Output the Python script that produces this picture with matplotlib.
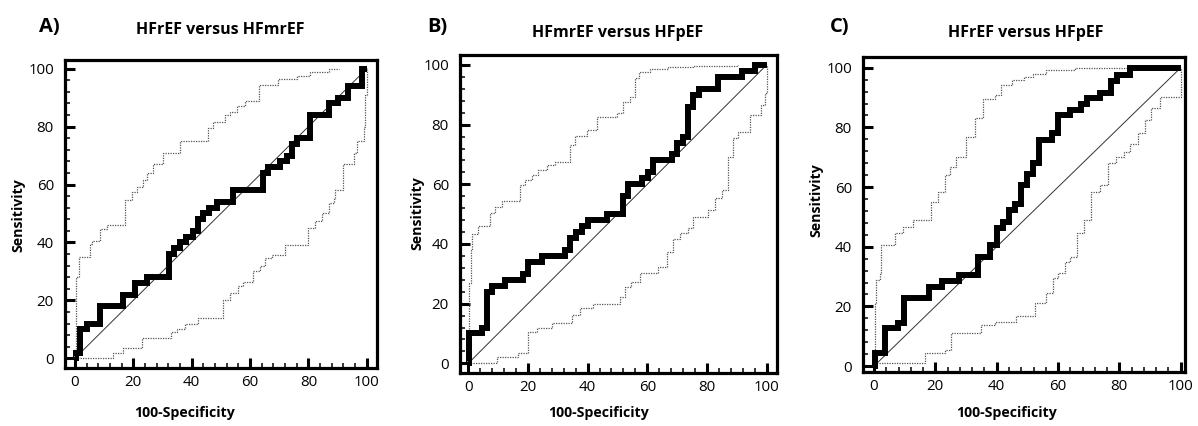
import numpy as np
import matplotlib
matplotlib.use("Agg")
import matplotlib.pyplot as plt
from matplotlib.ticker import MultipleLocator

plt.rcParams['font.family'] = ['Open Sans', 'DejaVu Sans']

# ---- data ----
# panel A: HFrEF versus HFmrEF
a_roc_x = [0, 0.3, 1.7, 4.2, 8.6, 16.6, 20.6, 24.6, 32.2, 34, 36, 38, 40.6, 42.3, 44, 46, 48.6,
           54.3, 64.6, 66.3, 70.3, 72.6, 74.3, 76, 80.6, 86.9, 90.3, 93.7, 98.3, 100]
a_roc_y = [0, 2, 10, 12, 18, 22, 26, 28, 36, 38, 40, 42, 44, 48, 50, 52, 54,
           58, 64, 66, 68, 70, 74, 76, 84, 88, 90, 94, 100, 100]
a_up_x = [0, 0.3, 1.5, 5.1, 5.7, 8.6, 10.9, 17.1, 19.4, 21.1, 23.4, 24.6, 26.9, 30.3, 36,
          45.7, 47.4, 51.4, 53.1, 55.7, 58.3, 62.9, 69.7, 76, 80.6, 86.9, 90.6]
a_up_y = [0, 28, 35, 39.5, 40.5, 44.5, 46, 54.5, 57.5, 59, 61.5, 64, 67, 71, 75,
          79.5, 81.5, 84, 85, 87, 89, 94.4, 96.5, 97.5, 99, 100, 100]
a_lo_x = [0, 13, 16.6, 22.9, 33, 34.9, 37.7, 42.3, 50.6, 53.1, 56, 57.7, 61, 63.4, 65.1, 67.4,
          72, 80, 82.3, 84.6, 86.9, 88.6, 89.1, 92, 95.7, 96.8, 98.9, 99.4, 100]
a_lo_y = [0, 2, 3.5, 7, 9, 10, 12, 14, 20, 22.5, 25, 26.5, 30, 32, 34.5, 35.7,
          39, 45, 47.5, 50, 53.5, 55, 58, 67, 71, 75, 80, 91, 100]

# panel B: HFmrEF versus HFpEF
b_roc_x = [0, 0.3, 4.5, 6.1, 7.8, 12.3, 18.2, 20.1, 24.6, 32.4, 34, 36, 38.2, 40.2, 46.4, 52,
           53.6, 58.1, 60.3, 62, 68.2, 69.8, 72, 73.7, 75.4, 77.4, 83.8, 91.6, 96, 100]
b_roc_y = [0, 10, 12, 24, 26, 28, 30, 34, 36, 38, 42, 44, 46, 48, 50, 56,
           60, 62, 64, 68, 70, 74, 76, 86, 90, 92, 96, 98, 100, 100]
b_up_x = [0, 0.3, 0.8, 1.1, 3.4, 7.3, 8.9, 11.2, 17.3, 19, 21.2, 23.5, 26.3, 29, 34, 35.8,
          39.7, 43, 49.7, 52, 54.2, 55.9, 57.3, 60.9, 67, 75.4, 90.5]
b_up_y = [0, 27, 38, 43.5, 46, 50.3, 52.3, 54.5, 59.8, 61.5, 63, 64.8, 66.5, 67.4, 73.2, 76.3,
          78.2, 82.7, 83.8, 87.7, 89.2, 95.5, 97.8, 98.5, 99.4, 99.8, 100]
b_lo_x = [0, 9.5, 16.8, 20.1, 22.9, 27.9, 34.6, 37.4, 41.9, 50.8, 52.5, 54.7, 57.5, 63.7,
          66.5, 68.7, 70.9, 73.7, 75.4, 80.4, 82.7, 84.9, 87.2, 88.8, 90.5, 94.4, 98.3,
          99.4, 100]
b_lo_y = [0, 2, 3.5, 10.6, 11.7, 13.6, 16.2, 18.4, 20, 22.3, 25.7, 27.4, 30.2, 32.4,
          37.4, 41.6, 43.6, 45.3, 49.2, 51.4, 55.3, 58.1, 69.3, 75.4, 77.7, 83.2, 86.6,
          90.5, 100]

# panel C: HFrEF versus HFpEF
c_roc_x = [0, 0.3, 3.7, 7.8, 9.8, 17.9, 22, 27.7, 33.9, 37.9, 40, 42, 43.9, 46.1, 47.8, 49.9,
           51.8, 53.7, 58, 60, 63.8, 67.6, 69.6, 73.6, 77.4, 79.3, 83.4, 100]
c_roc_y = [0, 4.5, 12.6, 14.5, 22.7, 26.6, 28.5, 30.5, 36.6, 40.6, 46.4, 48.4, 52.3, 54.3,
           60.7, 64.4, 68.2, 75.8, 78, 84.1, 85.8, 87.7, 89.7, 91.6, 95.5, 97.5, 100, 100]
c_up_x = [0, 0.2, 0.7, 1.8, 2.4, 6.7, 9.5, 12.7, 18.5, 20.9, 23, 24.7, 26.8, 30.1, 32.8, 35.5,
          39.3, 41.5, 45, 48.9, 51.8, 56.2, 65.4, 82.8]
c_up_y = [0, 21, 28.8, 31, 40.6, 44.5, 46.7, 49, 55, 58.4, 64, 66.6, 70.2, 76.9, 83, 89.4,
          90.8, 94.2, 95.9, 97, 97.9, 99.2, 100, 100]
c_lo_x = [0, 16.5, 23, 25.2, 34.8, 39.3, 46.2, 52.4, 56.2, 58.4, 60, 62.2, 63.8, 66.3, 68.5,
          70.9, 73.6, 76.3, 79, 81.5, 83.4, 86, 88.3, 90.4, 93.2, 100]
c_lo_y = [1, 4.5, 5.4, 11.2, 13.7, 14.9, 16.8, 21, 24.4, 29.4, 31.1, 35, 36.6, 44.5, 49,
          58.4, 60.7, 67.9, 70.2, 71.8, 74.6, 78, 82.5, 86.4, 90.3, 100]

panels = [
    ("A)", "HFrEF versus HFmrEF", a_roc_x, a_roc_y, a_up_x, a_up_y, a_lo_x, a_lo_y),
    ("B)", "HFmrEF versus HFpEF", b_roc_x, b_roc_y, b_up_x, b_up_y, b_lo_x, b_lo_y),
    ("C)", "HFrEF versus HFpEF", c_roc_x, c_roc_y, c_up_x, c_up_y, c_lo_x, c_lo_y),
]

# layout in pixels (figure 1198 x 426)
W, H = 1198, 426
boxes = [(65, 60, 377, 368), (460, 55, 777, 373), (863, 57, 1185, 372)]
xlims = [(-3.4, 103.5), (-2.8, 103.5), (-3.6, 101.4)]
ylims = [(-3.35, 103), (-3.25, 103.35), (-2.0, 103.6)]
letter_pos = [(39, 27), (427, 27), (830, 27)]
title_pos = [(220, 30), (618, 33), (1026, 33)]
xlab_pos = [(185, 413), (599, 413), (1007, 413)]
ylab_pos = [(18, 215), (417, 213), (816, 200)]

fig = plt.figure(figsize=(W / 100, H / 100), dpi=100)

for i, (letter, title, rx, ry, ux, uy, lx, ly) in enumerate(panels):
    x0, y0, x1, y1 = boxes[i]
    ax = fig.add_axes([x0 / W, 1 - y1 / H, (x1 - x0) / W, (y1 - y0) / H])

    ax.plot([0, 100], [0, 100], color="#333333", lw=0.7)
    ax.plot(ux, uy, drawstyle="steps-post", color="#555555", lw=0.9, ls=(0, (1, 1)))
    ax.plot(lx, ly, drawstyle="steps-post", color="#555555", lw=0.9, ls=(0, (1, 1)))
    ax.plot(rx, ry, drawstyle="steps-post", color="black", lw=4.3,
            solid_joinstyle="miter", solid_capstyle="butt")

    ax.set_xlim(*xlims[i])
    ax.set_ylim(*ylims[i])
    ax.xaxis.set_major_locator(MultipleLocator(20))
    ax.xaxis.set_minor_locator(MultipleLocator(4))
    ax.yaxis.set_major_locator(MultipleLocator(20))
    ax.yaxis.set_minor_locator(MultipleLocator(4))
    ax.tick_params(which="major", direction="in", length=7, width=2.2, labelsize=10.8)
    ax.tick_params(which="minor", direction="in", length=3.5, width=1.1)
    ax.tick_params(axis="y", which="major", pad=8)
    ax.tick_params(axis="x", which="major", pad=5)
    for sp in ax.spines.values():
        sp.set_linewidth(2.3)

    fig.text(letter_pos[i][0] / W, 1 - letter_pos[i][1] / H, letter,
             fontsize=14.5, fontweight="bold", ha="left", va="center")
    fig.text(title_pos[i][0] / W, 1 - title_pos[i][1] / H, title,
             fontsize=11.5, fontweight="bold", ha="center", va="center")
    fig.text(xlab_pos[i][0] / W, 1 - xlab_pos[i][1] / H, "100-Specificity",
             fontsize=10.2, fontweight="bold", ha="center", va="center")
    fig.text(ylab_pos[i][0] / W, 1 - ylab_pos[i][1] / H, "Sensitivity",
             fontsize=10.2, fontweight="bold", ha="center", va="center", rotation=90)

fig.savefig("out.png", dpi=100)
